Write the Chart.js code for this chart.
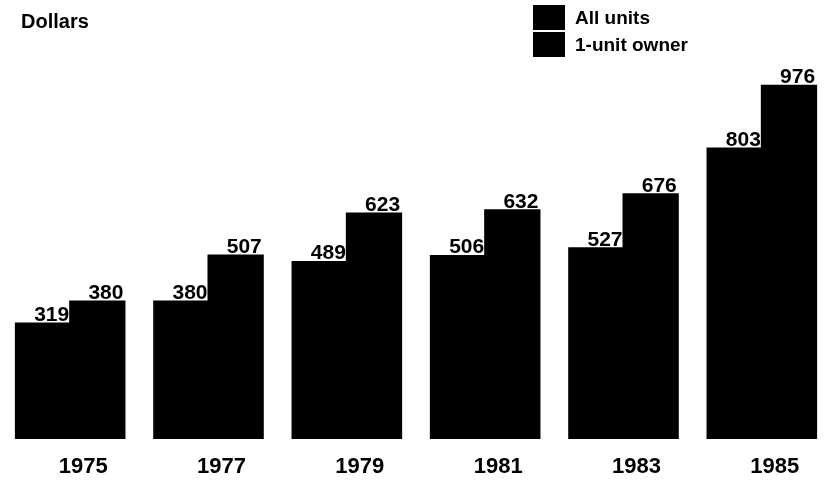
<!DOCTYPE html>
<html>
<head>
<meta charset="utf-8">
<script src="https://cdn.jsdelivr.net/npm/chart.js@4"></script>
<style>
  html, body { margin: 0; padding: 0; background: #fff; }
  #wrap { width: 834px; height: 482px; position: relative; }
</style>
</head>
<body>
<div id="wrap"><canvas id="chartCostos" width="834" height="482"></canvas></div>
<script>
// Datos del gráfico
const years = ['1975', '1977', '1979', '1981', '1983', '1985'];
const allUnits = [319, 380, 489, 506, 527, 803];
const oneUnitOwner = [380, 507, 623, 632, 676, 976];
const seriesNames = ['All units', '1-unit owner'];
const yMax = 1050;

const FONT = '"Liberation Sans", Arial, Helvetica, sans-serif';

// Plugin para textos: etiquetas de valor, años, leyenda y título del eje
const textPlugin = {
    id: 'textos',
    afterDatasetsDraw(chart) {
        const ctx = chart.ctx;
        ctx.save();
        ctx.fillStyle = '#000';

        // Valores encima de cada barra (alineados a la derecha)
        ctx.font = 'bold 21px ' + FONT;
        ctx.textAlign = 'right';
        ctx.textBaseline = 'bottom';
        chart.data.datasets.forEach((ds, i) => {
            const meta = chart.getDatasetMeta(i);
            meta.data.forEach((bar, j) => {
                const right = bar.x + bar.width / 2 - 1;
                ctx.fillText(String(ds.data[j]), right, bar.y + 2);
            });
        });

        // Años bajo cada grupo
        const xScale = chart.scales.x;
        ctx.font = 'bold 22px ' + FONT;
        ctx.textAlign = 'center';
        ctx.textBaseline = 'middle';
        years.forEach((y, j) => {
            ctx.fillText(y, xScale.getPixelForValue(j) + 13, 467);
        });

        // Título "Dollars"
        ctx.font = 'bold 20px ' + FONT;
        ctx.textAlign = 'left';
        ctx.fillText('Dollars', 21, 22);

        // Leyenda
        ctx.font = 'bold 19px ' + FONT;
        seriesNames.forEach((name, i) => {
            const top = 5 + i * 27;
            ctx.fillRect(533, top, 32, 25);
            ctx.fillText(name, 575, top + 14);
        });

        ctx.restore();
    }
};

new Chart(document.getElementById('chartCostos').getContext('2d'), {
    type: 'bar',
    data: {
        labels: years,
        datasets: [
            { label: seriesNames[0], data: allUnits, backgroundColor: '#000', borderWidth: 0, inflateAmount: 1 },
            { label: seriesNames[1], data: oneUnitOwner, backgroundColor: '#000', borderWidth: 0, inflateAmount: 1 }
        ]
    },
    options: {
        responsive: false,
        animation: false,
        devicePixelRatio: 1,
        layout: { padding: { top: 59, bottom: 43, left: 1, right: 3 } },
        datasets: {
            bar: { barPercentage: 1.0, categoryPercentage: 0.785 }
        },
        plugins: {
            legend: { display: false },
            tooltip: { enabled: false }
        },
        scales: {
            x: { display: false, grid: { display: false } },
            y: { display: false, min: 0, max: yMax, grid: { display: false } }
        }
    },
    plugins: [textPlugin]
});
</script>
</body>
</html>
